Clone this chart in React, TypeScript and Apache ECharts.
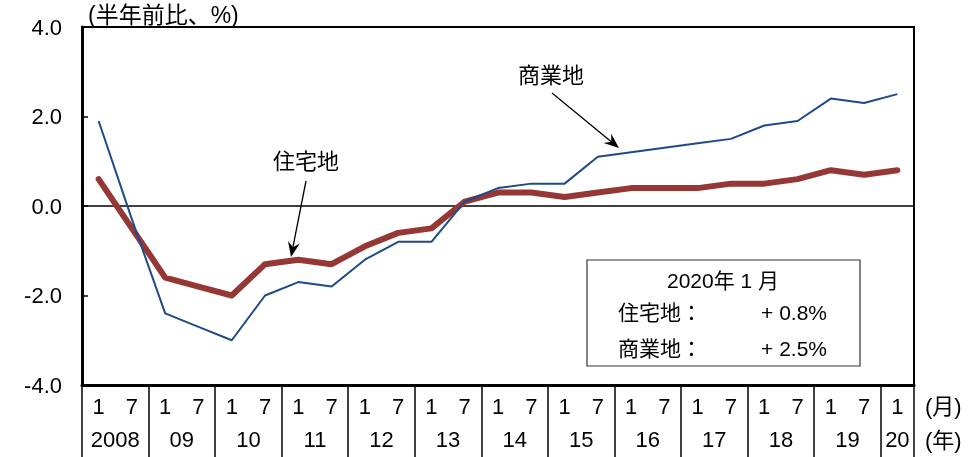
import React, { useEffect, useRef } from "react";
import * as echarts from "echarts";

const categories = [
  "2008/1", "2008/7", "2009/1", "2009/7", "2010/1", "2010/7", "2011/1", "2011/7",
  "2012/1", "2012/7", "2013/1", "2013/7", "2014/1", "2014/7", "2015/1", "2015/7",
  "2016/1", "2016/7", "2017/1", "2017/7", "2018/1", "2018/7", "2019/1", "2019/7", "2020/1",
];
const monthLabels = [
  "1", "7", "1", "7", "1", "7", "1", "7", "1", "7", "1", "7", "1", "7",
  "1", "7", "1", "7", "1", "7", "1", "7", "1", "7", "1",
];
const yearLabels = ["2008", "09", "10", "11", "12", "13", "14", "15", "16", "17", "18", "19", "20"];

const residential = [
  0.6, -0.5, -1.6, -1.8, -2.0, -1.3, -1.2, -1.3, -0.9, -0.6, -0.5, 0.1, 0.3, 0.3,
  0.2, 0.3, 0.4, 0.4, 0.4, 0.5, 0.5, 0.6, 0.8, 0.7, 0.8,
];
const commercial = [
  1.9, -0.3, -2.4, -2.7, -3.0, -2.0, -1.7, -1.8, -1.2, -0.8, -0.8, 0.1, 0.4, 0.5,
  0.5, 1.1, 1.2, 1.3, 1.4, 1.5, 1.8, 1.9, 2.4, 2.3, 2.5,
];

const FONT = "'Liberation Sans', Arial, 'Noto Sans CJK JP', sans-serif";
const RED = "#953735";
const BLUE = "#1F4A88";

function arrow(x1: number, y1: number, x2: number, y2: number) {
  const dx = x2 - x1;
  const dy = y2 - y1;
  const L = Math.sqrt(dx * dx + dy * dy);
  const ux = dx / L;
  const uy = dy / L;
  const nx = -uy;
  const ny = ux;
  const len = 15;
  const half = 6;
  const notch = 5;
  const bx = x2 - ux * len;
  const by = y2 - uy * len;
  const mx = x2 - ux * (len - notch);
  const my = y2 - uy * (len - notch);
  return [
    {
      type: "line",
      shape: { x1, y1, x2: mx, y2: my },
      style: { stroke: "#000", lineWidth: 1.3 },
    },
    {
      type: "polygon",
      shape: {
        points: [
          [x2, y2],
          [bx + nx * half, by + ny * half],
          [mx, my],
          [bx - nx * half, by - ny * half],
        ],
      },
      style: { fill: "#000" },
    },
  ];
}

function txt(text: string, x: number, y: number, align = "center", size = 21) {
  return {
    type: "text",
    x,
    y,
    style: {
      text,
      fill: "#000",
      fontSize: size,
      fontFamily: FONT,
      align,
      verticalAlign: "middle",
    },
  };
}

export default function App() {
  const ref = useRef<HTMLDivElement>(null);
  useEffect(() => {
    if (!ref.current) return;
    const chart = echarts.init(ref.current, null, { renderer: "svg" });
    chart.setOption({
      animation: false,
      textStyle: { fontFamily: FONT },
      grid: {
        left: 82,
        right: 57,
        top: 27,
        bottom: 72,
        show: true,
        borderColor: "#000",
        borderWidth: 2,
      },
      xAxis: [
        {
          type: "category",
          data: categories,
          boundaryGap: true,
          position: "bottom",
          axisLine: { show: true, onZero: false, lineStyle: { color: "#000", width: 3 } },
          axisTick: {
            show: true,
            interval: (i: number) => i % 2 === 0,
            length: 72,
            lineStyle: { color: "#000", width: 1.5 },
          },
          axisLabel: {
            interval: 0,
            formatter: (_v: string, i: number) => monthLabels[i],
            fontSize: 22,
            color: "#000",
            margin: 10,
            fontFamily: FONT,
          },
          splitLine: { show: false },
        },
        {
          type: "value",
          min: 0,
          max: 25,
          interval: 0.5,
          position: "bottom",
          axisLine: { show: false, onZero: false },
          axisTick: { show: false },
          splitLine: { show: false },
          axisLabel: {
            margin: 43,
            fontSize: 22,
            color: "#000",
            fontFamily: FONT,
            showMinLabel: true,
            showMaxLabel: true,
            formatter: (v: number) => {
              if (Math.abs(v - 24.5) < 1e-6) return yearLabels[12];
              const r = Math.round(v);
              if (Math.abs(v - r) < 1e-6 && r % 2 === 1 && r <= 23) return yearLabels[(r - 1) / 2];
              return "";
            },
          },
        },
      ],
      yAxis: {
        type: "value",
        min: -4,
        max: 4,
        interval: 2,
        axisLine: { show: true, lineStyle: { color: "#000", width: 3 } },
        axisTick: { show: true, inside: true, length: 6, lineStyle: { color: "#000", width: 1.5 } },
        axisLabel: {
          formatter: (v: number) => v.toFixed(1),
          fontSize: 22,
          color: "#000",
          margin: 20,
          fontFamily: FONT,
        },
        splitLine: { show: false },
      },
      series: [
        {
          name: "住宅地",
          type: "line",
          data: residential,
          symbol: "none",
          lineStyle: { color: RED, width: 6, cap: "round", join: "round" },
          z: 3,
          markLine: {
            silent: true,
            symbol: ["none", "none"],
            label: { show: false },
            lineStyle: { color: "#000", width: 1.5, type: "solid" },
            data: [{ yAxis: 0 }],
            z: 2,
          },
        },
        {
          name: "商業地",
          type: "line",
          data: commercial,
          symbol: "none",
          lineStyle: { color: BLUE, width: 2, join: "round" },
          z: 4,
        },
      ],
      graphic: [
        txt("(半年前比、%)", 88, 15, "left", 23),
        txt("住宅地", 306, 161, "center", 22),
        ...arrow(306, 181, 291, 257),
        txt("商業地", 551, 75, "center", 22),
        ...arrow(552, 93, 619, 148),
        {
          type: "rect",
          shape: { x: 587, y: 260, width: 273, height: 106 },
          style: { fill: "#fff", stroke: "#333", lineWidth: 1.2 },
          z: 10,
        },
        { ...txt("2020年 1 月", 723, 280), z: 11 },
        { ...txt("住宅地：", 618, 312, "left"), z: 11 },
        { ...txt("+ 0.8%", 827, 312, "right"), z: 11 },
        { ...txt("商業地：", 618, 348, "left"), z: 11 },
        { ...txt("+ 2.5%", 827, 348, "right"), z: 11 },
        txt("(月)", 925, 406, "left", 22),
        txt("(年)", 925, 440, "left", 22),
      ],
    });
    return () => chart.dispose();
  }, []);
  return (
    <div
      ref={ref}
      style={{ position: "fixed", left: 0, top: 0, width: 971, height: 457 }}
    />
  );
}
